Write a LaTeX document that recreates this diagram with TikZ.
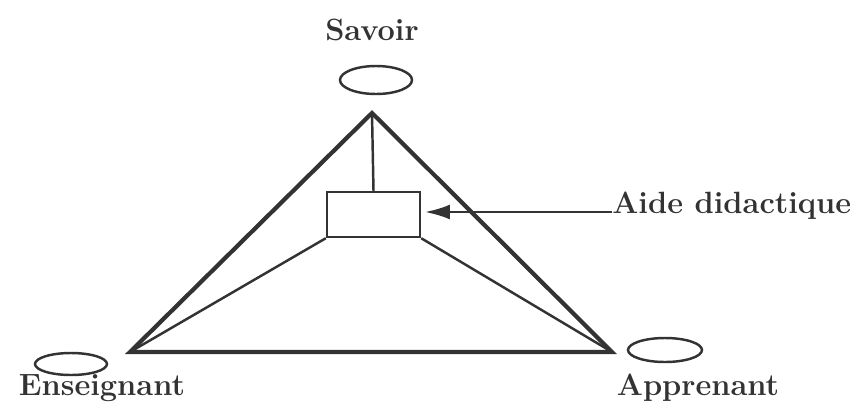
\documentclass[tikz,border=0pt]{standalone}
\usetikzlibrary{arrows.meta}
\begin{document}
\begin{tikzpicture}[x=0.02cm,y=-0.02cm,>={Latex[length=0.5cm,width=0.3cm]},
  lbl/.style={font=\bfseries\fontsize{17.5}{20}\selectfont,text=black!80,inner sep=0pt},
  heavy/.style={line width=2.4pt,black!80},
  light/.style={line width=1.4pt,black!80}]
 \useasboundingbox (0,0) rectangle (853,403);
 % corners of the triangle
 \coordinate (S) at (372,113);
 \coordinate (E) at (130,352);
 \coordinate (A) at (612,352);
 % didactic aid box
 \node[draw,light,minimum width=1.86cm,minimum height=0.9cm,inner sep=0pt] (aid) at (373.5,214.5) {};
 \draw[light] (S) -- (aid.north);
 \draw[light] (aid.south west) -- (E);
 \draw[light] (aid.south east) -- (A);
 \draw[heavy] (S) -- (E) -- (A) -- cycle;
 % ellipses
 \draw[light] (376,80) ellipse [x radius=36, y radius=14];
 \draw[light] (71,364) ellipse [x radius=36, y radius=11];
 \draw[light] (665,350) ellipse [x radius=37, y radius=12];
 % labels
 \node[lbl] (savoir) at (372,30) {Savoir};
 \node[lbl] (ens) at (102,388) {Enseignant};
 \node[lbl] (app) at (698,388) {Apprenant};
 \node[lbl,anchor=west] (didact) at (612,206) {Aide didactique};
 \coordinate (tail) at (612,212);
 \coordinate (tip) at (425,212);
 \draw[light,->] (tail) -- (tip);
\end{tikzpicture}
\end{document}
